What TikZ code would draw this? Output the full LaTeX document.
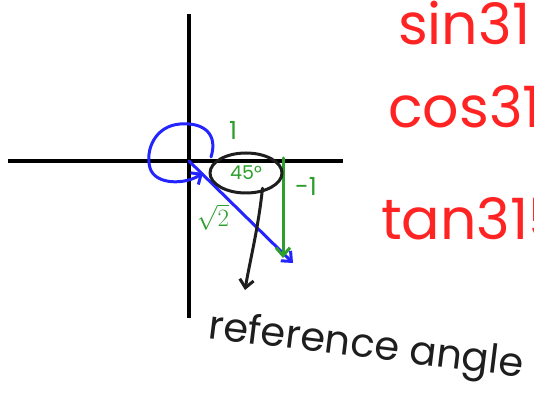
\documentclass[tikz,border=0pt]{standalone}
\usepackage{fontspec}
\setmainfont{Poppins}
\usetikzlibrary{arrows.meta,positioning,shapes.geometric}
\definecolor{InkRed}{HTML}{FF2424}
\definecolor{InkGreen}{HTML}{2E9E2E}
\definecolor{InkBlue}{HTML}{2424FF}
\definecolor{InkGray}{HTML}{1E1E1E}

\begin{document}
\begin{tikzpicture}[x=1pt,y=-1pt,
  axis/.style={line width=3.5pt,black},
  pen/.style={line width=3pt,line cap=round,line join=round},
  tip/.style={-{Straight Barb[length=8pt,width=14pt]}},
  redtext/.style={InkRed,font=\fontsize{57}{60}\selectfont,anchor=base west,
                  inner sep=0pt},
  greentext/.style={InkGreen,font=\fontsize{25}{27}\selectfont,inner sep=1pt}]
\useasboundingbox (0,0) rectangle (534,395);
\clip (0,0) rectangle (534,395);
% axes
\coordinate (origin) at (189,161);
\coordinate (ytop) at (189,14);
\coordinate (ybot) at (189,318);
\coordinate (xleft) at (8,161);
\coordinate (xright) at (343,161);
\draw[axis] (ytop) -- (ybot);
\draw[axis] (xleft) -- (xright);
% terminal side and rotation
\coordinate (vtip) at (293,263);
\coordinate (loopend) at (203,173);
\draw[pen,InkBlue,tip] (211,157) .. controls (218,135) and (205,122) .. (180,124)
  .. controls (155,126) and (145,150) .. (150,168)
  .. controls (155,185) and (185,185) .. (loopend);
\draw[pen,InkBlue,tip] (origin) -- (vtip);
% triangle sides
\coordinate (gtop) at (283,158);
\coordinate (gbot) at (283,258);
\draw[pen,InkGreen,tip] (gtop) -- (gbot);
\node[greentext] (one) at (233,130) {1};
\node[greentext] (minusone) at (306,186) {-1};
\node[greentext] (hyp) at (213,217) {$\sqrt{2}$};
% reference angle
\node[ellipse,draw=InkGray,pen,text=InkGreen,minimum width=72pt,
      minimum height=40pt,inner sep=0pt,font=\fontsize{19}{20}\selectfont]
      (refangle) at (246,173) {45°};
\node[InkGray,rotate=-7,font=\fontsize{40}{42}\selectfont,inner sep=0pt]
      (reflabel) at (366,348) {reference angle};
\draw[pen,InkGray,tip] (refangle.south east) ++(-10,0) coordinate (callstart)
  .. controls (258,230) and (250,260) .. (245,290) coordinate (callend);
% values
\node[redtext] (sinval) at (398,45) {sin315};
\node[redtext] (cosval) at (388,128) {cos315};
\node[redtext] (tanval) at (381,239) {tan315};
\end{tikzpicture}
\end{document}
